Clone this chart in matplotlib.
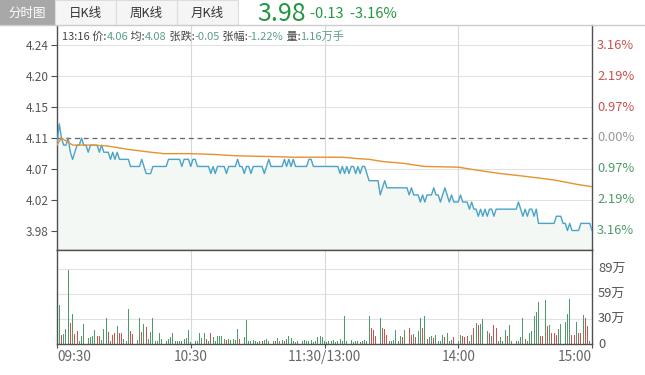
import numpy as np
import matplotlib
matplotlib.use("Agg")
import matplotlib.pyplot as plt
from matplotlib.patches import Rectangle
from matplotlib.lines import Line2D
from matplotlib.transforms import blended_transform_factory

plt.rcParams["font.family"] = ["Noto Sans CJK SC", "DejaVu Sans"]

W, H = 645, 375

# ---- data (one value per minute, 09:30 .. 15:00) ----
prev_close = 4.11
price = [
    4.10, 4.13, 4.11, 4.10, 4.10, 4.11, 4.09, 4.08, 4.09, 4.10, 4.10, 4.11, 4.10,
    4.10, 4.09, 4.10, 4.10, 4.10, 4.10, 4.09, 4.10, 4.09, 4.09, 4.09, 4.08,
    4.09, 4.08, 4.09, 4.08, 4.08, 4.08, 4.08, 4.08, 4.07, 4.07, 4.07, 4.07, 4.07,
    4.08, 4.07, 4.06, 4.06, 4.06, 4.07, 4.07, 4.07, 4.07, 4.07, 4.07, 4.07,
    4.08, 4.08, 4.08, 4.08, 4.08, 4.08, 4.07, 4.08, 4.08, 4.08, 4.07, 4.08, 4.08, 4.07,
    4.07, 4.07, 4.07, 4.07, 4.07, 4.06, 4.07, 4.06, 4.07, 4.07, 4.07, 4.07, 4.06, 4.07, 4.07, 4.07,
    4.07, 4.08, 4.07, 4.07, 4.06, 4.07, 4.07, 4.06, 4.07, 4.07, 4.07, 4.07, 4.07, 4.06, 4.07, 4.08,
    4.07, 4.07, 4.07, 4.07, 4.07, 4.07, 4.08, 4.07, 4.08, 4.07, 4.08, 4.07, 4.07, 4.07, 4.07, 4.07,
    4.07, 4.08, 4.08, 4.07, 4.07, 4.07, 4.07, 4.07, 4.07, 4.07, 4.07, 4.07, 4.07, 4.07, 4.07, 4.06,
    4.07, 4.06, 4.07, 4.06, 4.07, 4.07, 4.06, 4.07, 4.06, 4.07, 4.07, 4.06, 4.05, 4.05,
    4.05, 4.05, 4.05, 4.03, 4.04, 4.05, 4.04, 4.04, 4.04, 4.04, 4.04, 4.04, 4.04, 4.04,
    4.04, 4.04, 4.03, 4.04, 4.03, 4.03, 4.03, 4.02, 4.03, 4.02, 4.03, 4.03, 4.03, 4.04, 4.03,
    4.03, 4.02, 4.03, 4.04, 4.03, 4.02, 4.03, 4.02, 4.02, 4.02, 4.03, 4.02, 4.02, 4.02, 4.01,
    4.02, 4.01, 4.01, 4.00, 4.01, 4.00, 4.01, 4.00, 4.01, 4.01, 4.00, 4.01, 4.01, 4.01, 4.01,
    4.01, 4.01, 4.01, 4.01, 4.01, 4.01, 4.02, 4.01, 4.00, 4.01, 4.00, 4.01, 4.01, 4.00, 4.01,
    3.99, 3.99, 3.99, 3.99, 3.99, 3.99, 3.99, 3.99, 4.00, 4.00, 4.00, 3.99, 3.99, 3.98, 3.99,
    3.98, 3.98, 3.98, 3.98, 3.99, 3.99, 3.99, 3.99, 3.99, 3.98,
]

avg_minutes = [0, 2, 4, 7, 15, 22, 26, 32, 37, 42, 48, 60, 70, 80, 95, 106, 120,
               128, 135, 140, 146, 155, 165, 180, 190, 199, 209, 223, 233, 240]
avg_price = [4.100, 4.110, 4.106, 4.100, 4.100, 4.099, 4.097, 4.094, 4.092, 4.090,
             4.088, 4.088, 4.087, 4.085, 4.084, 4.083, 4.083, 4.083, 4.081, 4.080,
             4.077, 4.0745, 4.070, 4.069, 4.064, 4.060, 4.0565, 4.051, 4.045, 4.0415]

# volume in 万 (10k shares)
volume = [
    3, 46, 11, 12, 18, 89, 25, 36, 12, 16,
    4, 9, 24, 4, 7, 8, 9, 17, 9, 9,
    5, 18, 31, 14, 3, 11, 13, 21, 13, 13,
    6, 3, 42, 15, 12, 8, 5, 31, 14, 24,
    20, 6, 14, 31, 4, 3, 13, 6, 9, 4,
    6, 8, 13, 4, 3, 4, 4, 6, 7, 17,
    2, 3, 4, 4, 13, 7, 13, 6, 4, 13,
    8, 4, 9, 10, 9, 6, 5, 6, 5, 6,
    5, 18, 6, 4, 8, 29, 4, 3, 5, 3,
    2, 4, 3, 5, 6, 3, 2, 4, 3, 7,
    3, 5, 4, 6, 9, 7, 3, 2, 3, 2,
    3, 5, 4, 3, 5, 2, 3, 8, 10, 8,
    3, 2, 4, 3, 5, 2, 3, 6, 3, 33,
    4, 3, 5, 2, 3, 4, 2, 3, 5, 4,
    33, 19, 17, 10, 30, 31, 19, 18, 11, 4,
    3, 5, 17, 4, 10, 8, 17, 22, 19, 11,
    12, 8, 15, 31, 19, 33, 6, 8, 10, 7,
    11, 4, 4, 11, 8, 13, 4, 5, 8, 11,
    4, 11, 10, 8, 10, 4, 11, 19, 25, 23,
    24, 30, 13, 15, 13, 10, 23, 19, 4, 8,
    4, 17, 9, 23, 4, 10, 4, 3, 8, 31,
    6, 4, 13, 16, 33, 38, 50, 9, 9, 52,
    22, 23, 13, 13, 11, 18, 24, 25, 26, 36,
    54, 11, 11, 26, 13, 13, 35, 31, 22, 4,
    34,
]
# r = up bar, g = down bar
vol_dir = "".join([
    "ggrgggrgrr", "ggggggggrr", "gggrgrrgrr", "gggrrgggrg", "rggggggggg",
    "gggggggggg", "gggggggrgr", "ggggggrggg", "ggrggggggg", "ggrgggggrg",
    "ggrggggggg", "gggggggggg", "gggggggggg", "grggggrggg", "grrrggrrrg",
    "gggggrgrrr", "grggrgrggr", "ggggrgggrg", "ggrrrggrgr", "ggrgrgrrgg",
    "ggrggrgggg", "rggggggrrg", "rgrrrggggg", "grrgrrgrrg", "g",
])

price_ticks = [3.98, 4.0233, 4.0667, 4.11, 4.1533, 4.1967, 4.24]
price_labels = ["3.98", "4.02", "4.07", "4.11", "4.15", "4.20", "4.24"]
pct_labels = ["3.16%", "2.19%", "0.97%", "0.00%", "0.97%", "2.19%", "3.16%"]
vol_ticks = [0, 29.7, 59.4, 89.1]
vol_labels = ["0", "30万", "59万", "89万"]
time_ticks = [0, 60, 120, 180, 240]
time_labels = ["09:30", "10:30", "11:30/13:00", "14:00", "15:00"]

# ---- colours ----
c_line = "#4aa3c9"
c_avg = "#e8912f"
c_fill = "#f3f8f5"
c_up = "#c9534c"
c_down = "#4f9a6b"
c_grid = "#e2e2e2"
c_axis = "#505050"
c_text = "#555555"
c_green = "#23963f"
c_val = "#5c9f87"


def fx(px):
    return px / W


def fy(py):
    return 1 - py / H


fig = plt.figure(figsize=(W / 100, H / 100), dpi=100)
fig.patch.set_facecolor("white")

L, R = 57, 592
ax_p = fig.add_axes([fx(L), fy(250), (R - L) / W, 225 / H])
ax_v = fig.add_axes([fx(L), fy(344), (R - L) / W, 94 / H])

x = np.arange(len(price))

# price panel
for t in price_ticks:
    if t != prev_close:
        ax_p.axhline(t, color=c_grid, lw=0.8, zorder=0)
for t in time_ticks[1:-1]:
    ax_p.axvline(t, color="#d8d8d8", lw=0.8, zorder=0)
ax_p.fill_between(x, price, 3.90, color=c_fill, lw=0, zorder=1)
ax_p.plot(x, price, color=c_line, lw=1.0, zorder=3)
ax_p.plot(avg_minutes, avg_price, color=c_avg, lw=1.0, zorder=3)
ax_p.axhline(prev_close, color="#666666", lw=0.9, ls=(0, (4, 3)), zorder=2)
ax_p.set_xlim(0, 240)
ax_p.set_ylim(3.9526, 4.2688)
ax_p.set_xticks([])
ax_p.set_yticks(price_ticks, price_labels)
ax_p.tick_params(axis="y", left=True, length=4, width=0.8, color=c_axis,
                 labelcolor=c_text, labelsize=8.5, pad=2)
for s in ["left", "right", "bottom"]:
    ax_p.spines[s].set_color(c_axis)
    ax_p.spines[s].set_linewidth(1.0)
ax_p.spines["top"].set_visible(False)

tr = blended_transform_factory(ax_p.transAxes, ax_p.transData)
for t, lab in zip(price_ticks, pct_labels):
    if t > prev_close:
        col = c_up
    elif t < prev_close:
        col = c_down
    else:
        col = "#999999"
    ax_p.text(1.0 + 5 / (R - L), t, lab, transform=tr, color=col, fontsize=9.3,
              ha="left", va="center")

# volume panel
for t in vol_ticks[1:]:
    ax_v.axhline(t, color=c_grid, lw=0.8, zorder=0)
for t in time_ticks[1:-1]:
    ax_v.axvline(t, color="#d8d8d8", lw=0.8, zorder=0)
bar_cols = [c_up if d == "r" else c_down for d in vol_dir]
ax_v.bar(x, volume, width=0.42, color=bar_cols, lw=0, zorder=2)
ax_v.set_xlim(0, 240)
ax_v.set_ylim(0, 112.3)
ax_v.set_yticks([])
ax_v.set_xticks(time_ticks, time_labels)
ax_v.tick_params(axis="x", length=3, width=0.8, color=c_axis,
                 labelcolor="#666666", labelsize=9.8, pad=1)
xl = ax_v.get_xticklabels()
xl[0].set_ha("left")
xl[-1].set_ha("right")
for s in ["left", "right", "bottom", "top"]:
    ax_v.spines[s].set_color(c_axis)
    ax_v.spines[s].set_linewidth(1.0)

trv = blended_transform_factory(ax_v.transAxes, ax_v.transData)
for t, lab in zip(vol_ticks, vol_labels):
    ax_v.text(1.0 + 6 / (R - L), t, lab, transform=trv, color=c_text,
              fontsize=9.3, ha="left", va="center")

# ---- header tabs ----
fig.add_artist(Line2D([0, 1], [fy(25), fy(25)], color="#cccccc", lw=1.0))
fig.add_artist(Rectangle((fx(0), fy(25)), 55 / W, 25 / H, transform=fig.transFigure,
                         facecolor="#a8a8a8", edgecolor="none"))
fig.text(fx(27), fy(13), "分时图", color="white", fontsize=9, ha="center", va="center")
tabs = ["日K线", "周K线", "月K线"]
for i, name in enumerate(tabs):
    x0 = 55 + i * 61
    fig.add_artist(Rectangle((fx(x0), fy(25)), 61 / W, 25 / H, transform=fig.transFigure,
                             facecolor="#f5f5f5", edgecolor="#dddddd", lw=0.8))
    fig.text(fx(x0 + 30.5), fy(13), name, color="#333333", fontsize=9,
             ha="center", va="center")

fig.text(fx(257), fy(14), "3.98", color=c_green, fontsize=18, ha="left", va="center")
fig.text(fx(310), fy(14), "-0.13  -3.16%", color=c_green, fontsize=10.5,
         ha="left", va="center")

# info row inside the chart
renderer = fig.canvas.get_renderer()
pieces = [("13:16 价:", "#444444"), ("4.06", c_val), (" 均:", "#444444"), ("4.08", c_val),
          (" 张跌:", "#444444"), ("-0.05", c_val), (" 张幅:", "#444444"), ("-1.22%", c_val),
          (" 量:", "#444444"), ("1.16万手", c_val)]
px = 62
for s, col in pieces:
    t = fig.text(fx(px), fy(37), s, color=col, fontsize=8, ha="left", va="center")
    px += t.get_window_extent(renderer=renderer).width

fig.savefig("out.png", dpi=100)
